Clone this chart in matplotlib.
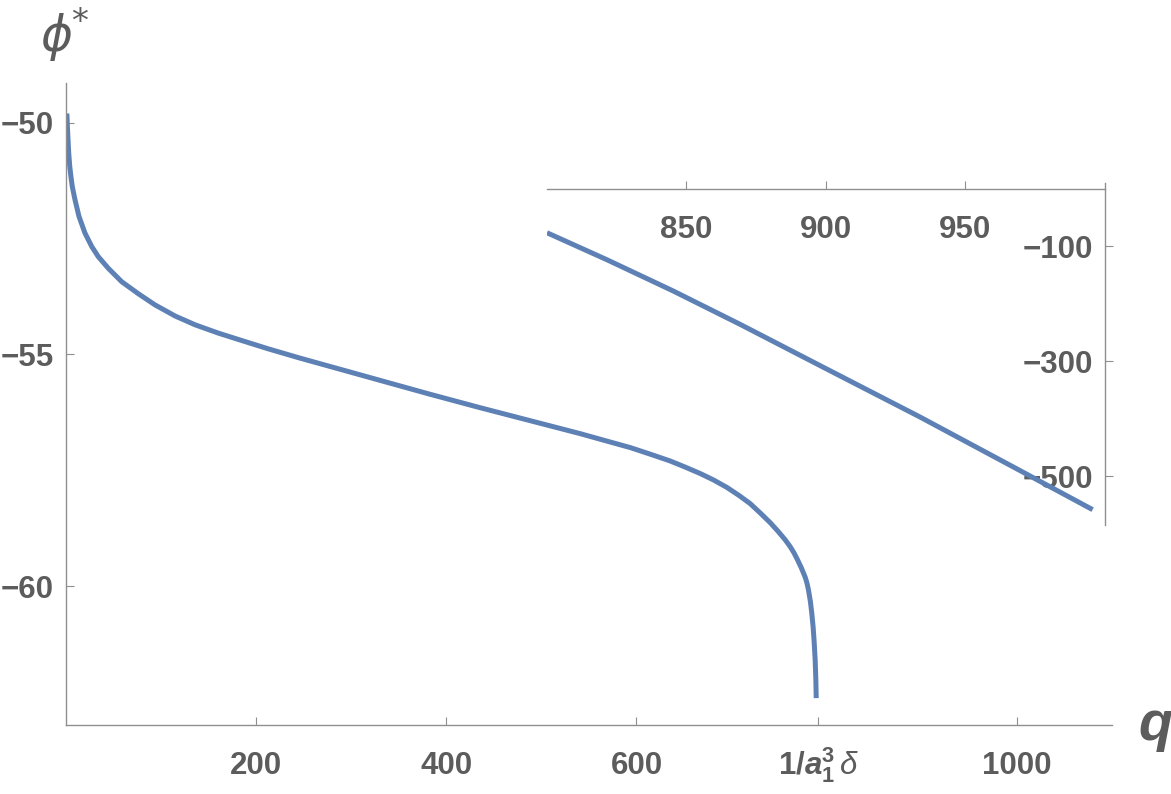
import matplotlib.pyplot as plt

# main branch
q_main = [1.2, 1.6, 2.1, 2.5, 3.1, 4.2, 5.5, 6.9, 9.7, 13.9, 20.2, 27.3, 34.2, 44.7,
          58.8, 76.3, 93.8, 114.9, 135.9, 160.4, 185.0, 213.0, 246.3, 298.9, 330.4,
          383.0, 435.6, 488.2, 540.8, 567.0, 593.3, 614.0, 635.4, 651.0, 666.9,
          681.0, 695.0, 707.5, 719.5, 730.0, 740.5, 748.5, 756.3, 761.6, 765.5,
          769.0, 773.2, 777.4, 779.2, 780.8, 782.9, 784.4, 785.8, 786.8, 787.9,
          788.6, 789.0]
phi_main = [-49.80, -50.02, -50.25, -50.40, -50.65, -50.94, -51.17, -51.38, -51.66,
            -52.02, -52.38, -52.67, -52.89, -53.14, -53.43, -53.69, -53.93, -54.17,
            -54.36, -54.54, -54.70, -54.88, -55.08, -55.38, -55.56, -55.86, -56.15,
            -56.43, -56.71, -56.86, -57.01, -57.15, -57.30, -57.43, -57.57, -57.71,
            -57.87, -58.04, -58.22, -58.42, -58.63, -58.81, -59.00, -59.15, -59.28,
            -59.42, -59.60, -59.81, -59.93, -60.08, -60.34, -60.60, -60.90, -61.20,
            -61.60, -62.03, -62.42]

# branch beyond the pole (inset)
q_zoom = [800.0, 821.6, 845.3, 869.4, 898.0, 933.9, 969.7, 995.7]
phi_zoom = [-76.5, -123.7, -177.9, -236.2, -307.8, -397.4, -490.4, -558.3]

main_xticks = [200, 400, 600, 791, 1000]
main_xlabels = ['200', '400', '600',
                r'$\mathbf{1/}\mathbfit{a}_{\mathbf{1}}^{\mathbf{3}}\,\delta$', '1000']
main_yticks = [-60, -55, -50]
main_ylabels = ['\u221260', '\u221255', '\u221250']
zoom_xticks = [850, 900, 950]
zoom_xlabels = ['850', '900', '950']
zoom_yticks = [-500, -300, -100]
zoom_ylabels = ['\u2212500', '\u2212300', '\u2212100']

LINE = '#5e81b5'
AXIS_GREY = '#8f8f8f'
TEXT_GREY = '#5c5c5c'

plt.rcParams['font.family'] = 'Liberation Sans'
plt.rcParams['mathtext.fontset'] = 'custom'
plt.rcParams['mathtext.rm'] = 'Liberation Sans'
plt.rcParams['mathtext.bf'] = 'Liberation Sans:bold'
plt.rcParams['mathtext.it'] = 'Liberation Sans:italic'
plt.rcParams['mathtext.bfit'] = 'Liberation Sans:italic:bold'


def style_axes(ax, xpad, ypad):
    for side in ['top', 'right']:
        ax.spines[side].set_visible(False)
    for side in ['left', 'bottom']:
        ax.spines[side].set_color(AXIS_GREY)
        ax.spines[side].set_linewidth(1.0)
    ax.tick_params(direction='in', length=6, width=0.8, color=AXIS_GREY,
                   labelcolor=TEXT_GREY, labelsize=22.5)
    ax.tick_params(axis='x', pad=xpad)
    ax.tick_params(axis='y', pad=ypad)
    plt.setp(ax.get_xticklabels(), fontweight='bold', va='baseline')
    plt.setp(ax.get_yticklabels(), fontweight='bold')


fig = plt.figure(figsize=(11.71, 7.94), dpi=100)

ax = fig.add_axes([0.05615, 0.0869, 0.8935, 0.8086])
ax.plot(q_main, phi_main, color=LINE, lw=3.6, solid_capstyle='butt',
        solid_joinstyle='round')
ax.set_xlim(0, 1100)
ax.set_ylim(-63, -49.14)
ax.set_xticks(main_xticks, main_xlabels)
ax.set_yticks(main_yticks, main_ylabels)
style_axes(ax, 35.3, 8.5)

# inset: axes cross at (1000, 0)
ax2 = fig.add_axes([0.4671, 0.3388, 0.4762, 0.4307])
ax2.set_facecolor('none')
ax2.plot(q_zoom, phi_zoom, color=LINE, lw=3.6, solid_capstyle='butt',
         solid_joinstyle='round', zorder=3)
ax2.set_xlim(800, 1000)
ax2.set_ylim(-585, 10)
ax2.spines['bottom'].set_position(('data', 0))
ax2.spines['left'].set_position(('data', 1000))
ax2.set_xticks(zoom_xticks, zoom_xlabels)
ax2.set_yticks(zoom_yticks, zoom_ylabels)
style_axes(ax2, 35.8, 8.0)

fig.text(40 / 1171, 1 - 52 / 794, r'$\phi^{\!\!*}$', math_fontfamily='dejavusans',
         fontsize=35, color=TEXT_GREY, ha='left', va='baseline')
fig.text(1138 / 1171, 1 - 740 / 794, 'q', fontsize=40, fontweight='bold',
         fontstyle='italic', color=TEXT_GREY, ha='left', va='baseline')

fig.savefig('out.png', dpi=100)
